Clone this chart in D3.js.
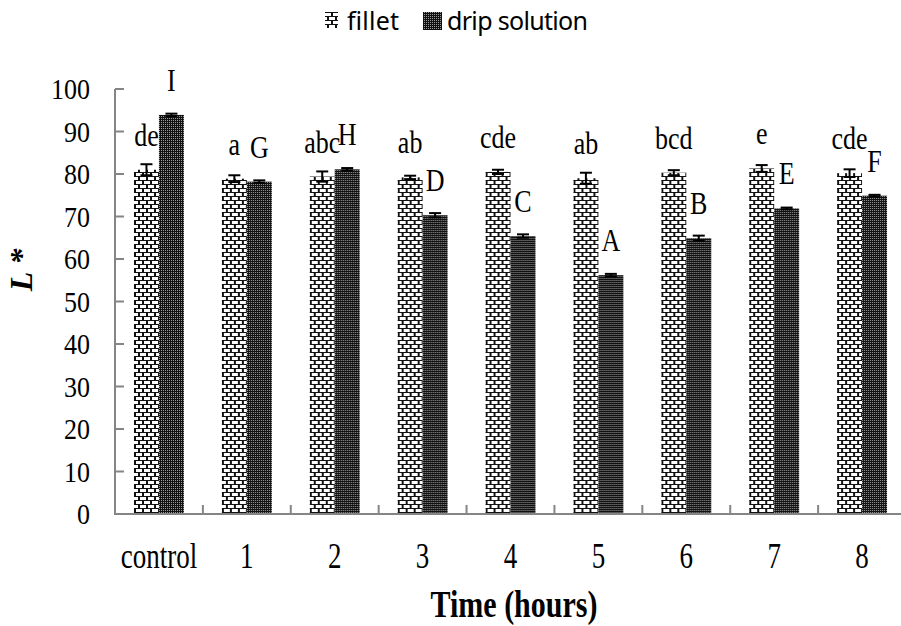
<!DOCTYPE html>
<html>
<head>
<meta charset="utf-8">
<script src="https://cdn.jsdelivr.net/npm/d3@7"></script>
<style>
  body { margin: 0; background: #fff; }
  svg { display: block; }
</style>
</head>
<body>
<svg width="901" height="626"></svg>
<script>
// values
const categories = ["control", "1", "2", "3", "4", "5", "6", "7", "8"];
const series = ["fillet", "drip solution"];
const filletMean = [81.0, 78.9, 79.4, 79.2, 80.5, 79.0, 80.3, 81.3, 80.2];
const filletErr = [1.3, 0.8, 1.2, 0.4, 0.5, 1.3, 0.6, 0.8, 0.9];
const dripMean = [93.9, 78.2, 81.1, 70.3, 65.4, 56.2, 64.9, 71.9, 74.9];
const dripErr = [0.3, 0.3, 0.3, 0.5, 0.4, 0.3, 0.6, 0.2, 0.2];
const filletLetters = ["de", "a", "abc", "ab", "cde", "ab", "bcd", "e", "cde"];
const dripLetters = ["I", "G", "H", "D", "C", "A", "B", "E", "F"];
const yTicks = [0, 10, 20, 30, 40, 50, 60, 70, 80, 90, 100];

const svg = d3.select("svg");
const width = +svg.attr("width");
const height = +svg.attr("height");

const SERIF = "'Liberation Serif', 'Times New Roman', serif";
const AXIS_COLOR = "#858585";

// patterns for the two series
const defs = svg.append("defs");
const brick = defs.append("pattern")
  .attr("id", "brick")
  .attr("patternUnits", "userSpaceOnUse")
  .attr("width", 8).attr("height", 8);
brick.append("rect").attr("width", 8).attr("height", 8).attr("fill", "#111");
brick.append("rect").attr("x", 1).attr("y", 1).attr("width", 6).attr("height", 3).attr("fill", "#fff");
brick.append("rect").attr("x", -3).attr("y", 5).attr("width", 6).attr("height", 3).attr("fill", "#fff");
brick.append("rect").attr("x", 5).attr("y", 5).attr("width", 6).attr("height", 3).attr("fill", "#fff");

const dots = defs.append("pattern")
  .attr("id", "dots")
  .attr("patternUnits", "userSpaceOnUse")
  .attr("width", 2).attr("height", 2);
dots.append("rect").attr("width", 2).attr("height", 2).attr("fill", "#111");
dots.append("rect").attr("width", 1).attr("height", 1).attr("fill", "#9a9a9a");

const fills = { "fillet": "url(#brick)", "drip solution": "url(#dots)" };

// scales
const x0 = d3.scaleBand().domain(categories).range([115, 906]).paddingInner(0).paddingOuter(0);
const x1 = d3.scaleBand().domain(series).range([0, x0.bandwidth()]).paddingInner(0).paddingOuter(0.76);
const y = d3.scaleLinear().domain([0, 100]).range([514, 89]);

const rows = categories.map((c, i) => ({
  cat: c,
  bars: [
    { key: "fillet", mean: filletMean[i], err: filletErr[i], letter: filletLetters[i] },
    { key: "drip solution", mean: dripMean[i], err: dripErr[i], letter: dripLetters[i] }
  ]
}));

// bars
const groups = svg.append("g").attr("class", "bars")
  .selectAll("g")
  .data(rows)
  .join("g")
  .attr("transform", function (d) { return "translate(" + x0(d.cat) + ",0)"; });

groups.selectAll("rect")
  .data(function (d) { return d.bars; })
  .join("rect")
  .attr("x", function (d) { return x1(d.key); })
  .attr("y", function (d) { return y(d.mean); })
  .attr("width", x1.bandwidth())
  .attr("height", function (d) { return y(0) - y(d.mean); })
  .attr("fill", function (d) { return fills[d.key]; });

// error bars
const err = groups.selectAll("g.err")
  .data(function (d) { return d.bars; })
  .join("g")
  .attr("class", "err")
  .attr("stroke", "#000")
  .attr("stroke-width", 2);
err.append("line")
  .attr("x1", function (d) { return x1(d.key) + x1.bandwidth() / 2; })
  .attr("x2", function (d) { return x1(d.key) + x1.bandwidth() / 2; })
  .attr("y1", function (d) { return y(d.mean + d.err); })
  .attr("y2", function (d) { return y(d.mean - d.err); });
[1, -1].forEach(function (s) {
  err.append("line")
    .attr("x1", function (d) { return x1(d.key) + x1.bandwidth() / 2 - 6; })
    .attr("x2", function (d) { return x1(d.key) + x1.bandwidth() / 2 + 6; })
    .attr("y1", function (d) { return y(d.mean + s * d.err); })
    .attr("y2", function (d) { return y(d.mean + s * d.err); });
});

// significance letters (the figure is stretched a little vertically)
groups.selectAll("text")
  .data(function (d) { return d.bars; })
  .join("text")
  .attr("transform", function (d) {
    return "translate(" + (x1(d.key) + x1.bandwidth() / 2) + "," + (y(d.mean) - 24) + ") scale(1,1.2)";
  })
  .attr("text-anchor", "middle")
  .attr("font-family", SERIF)
  .attr("font-size", 26)
  .attr("fill", "#000")
  .text(function (d) { return d.letter; });

// y axis
const yAxis = svg.append("g").attr("class", "y-axis");
yAxis.append("line")
  .attr("x1", 115).attr("x2", 115)
  .attr("y1", y(100)).attr("y2", y(0))
  .attr("stroke", AXIS_COLOR).attr("stroke-width", 2);
yAxis.selectAll("line.tick")
  .data(yTicks)
  .join("line")
  .attr("class", "tick")
  .attr("x1", 115).attr("x2", 124)
  .attr("y1", function (d) { return y(d); })
  .attr("y2", function (d) { return y(d); })
  .attr("stroke", AXIS_COLOR).attr("stroke-width", 2);
yAxis.selectAll("text")
  .data(yTicks)
  .join("text")
  .attr("transform", function (d) { return "translate(90," + (y(d) + 10) + ") scale(1,1.15)"; })
  .attr("text-anchor", "end")
  .attr("font-family", SERIF)
  .attr("font-size", 26)
  .text(function (d) { return d; });

// x axis
const xAxis = svg.append("g").attr("class", "x-axis");
xAxis.append("line")
  .attr("x1", 114).attr("x2", width)
  .attr("y1", y(0)).attr("y2", y(0))
  .attr("stroke", AXIS_COLOR).attr("stroke-width", 2);
xAxis.selectAll("line.tick")
  .data(categories.slice(1))
  .join("line")
  .attr("class", "tick")
  .attr("x1", function (d) { return x0(d); })
  .attr("x2", function (d) { return x0(d); })
  .attr("y1", y(0)).attr("y2", y(0) - 9)
  .attr("stroke", AXIS_COLOR).attr("stroke-width", 2);
xAxis.selectAll("text")
  .data(categories)
  .join("text")
  .attr("transform", function (d) {
    return "translate(" + (x0(d) + x0.bandwidth() / 2) + ",568) scale(1,1.3)";
  })
  .attr("text-anchor", "middle")
  .attr("font-family", SERIF)
  .attr("font-size", 27)
  .text(function (d) { return d; });

// axis titles
svg.append("text")
  .attr("transform", "translate(514,617) scale(1,1.25)")
  .attr("text-anchor", "middle")
  .attr("font-family", SERIF)
  .attr("font-weight", "bold")
  .attr("font-size", 30)
  .text("Time (hours)");

svg.append("text")
  .attr("transform", "translate(32,270) rotate(-90)")
  .attr("text-anchor", "middle")
  .attr("font-family", SERIF)
  .attr("font-weight", "bold")
  .attr("font-style", "italic")
  .attr("font-size", 32)
  .text("L *");

// legend
const legend = svg.append("g").attr("class", "legend");
legend.append("rect").attr("x", 325).attr("y", 12).attr("width", 13).attr("height", 16).attr("fill", fills["fillet"]);
legend.append("text")
  .attr("x", 347).attr("y", 30)
  .attr("font-family", "'Noto Sans', sans-serif")
  .attr("font-size", 25)
  .attr("textLength", 52)
  .text(series[0]);
legend.append("rect").attr("x", 423).attr("y", 12).attr("width", 19).attr("height", 18).attr("fill", fills["drip solution"]);
legend.append("text")
  .attr("x", 447).attr("y", 30)
  .attr("font-family", "'Noto Sans', sans-serif")
  .attr("font-size", 25)
  .attr("textLength", 141)
  .text(series[1]);
</script>
</body>
</html>
